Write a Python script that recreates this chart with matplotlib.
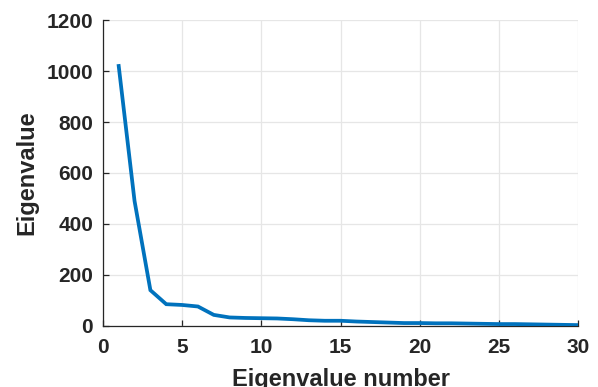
import numpy as np
import matplotlib.pyplot as plt

plt.rcParams['font.family'] = ['Liberation Sans', 'DejaVu Sans']
plt.rcParams['font.weight'] = 'bold'

eig_number = list(range(1, 31))
eig_values = [1020, 490, 140, 85, 82, 76, 43, 33, 31, 30,
              29, 26, 22, 20, 20, 17, 15, 13, 11, 11,
              10, 10, 9, 8, 7, 7, 6, 5, 4, 3]

x_ticks = [0, 5, 10, 15, 20, 25, 30]
y_ticks = [0, 200, 400, 600, 800, 1000, 1200]

fig = plt.figure(figsize=(5.98, 3.87), dpi=100)
ax = fig.add_axes([0.172, 0.158, 0.795, 0.79])

ax.plot(eig_number, eig_values, color=(0, 0.447, 0.741), linewidth=2.7,
        solid_joinstyle='miter', zorder=3)

ax.set_xlim(0, 30)
ax.set_ylim(0, 1200)
ax.set_xticks(x_ticks)
ax.set_yticks(y_ticks)
ax.grid(True, color='#e6e6e6', linewidth=0.9)
ax.set_axisbelow(True)

for s in ['top', 'right']:
    ax.spines[s].set_visible(False)
for s in ['left', 'bottom']:
    ax.spines[s].set_color('#262626')
    ax.spines[s].set_linewidth(0.9)

ax.tick_params(direction='in', length=4, width=0.9, colors='#262626',
               labelsize=15)
ax.tick_params(axis='x', pad=9)
ax.tick_params(axis='y', pad=7)
for lbl in ax.get_xticklabels() + ax.get_yticklabels():
    lbl.set_fontweight('bold')

ax.set_xlabel('Eigenvalue number', fontsize=17, fontweight='bold',
              color='#262626', labelpad=8)
ax.set_ylabel('Eigenvalue', fontsize=17, fontweight='bold',
              color='#262626', labelpad=6)

fig.savefig('out.png', dpi=100)
